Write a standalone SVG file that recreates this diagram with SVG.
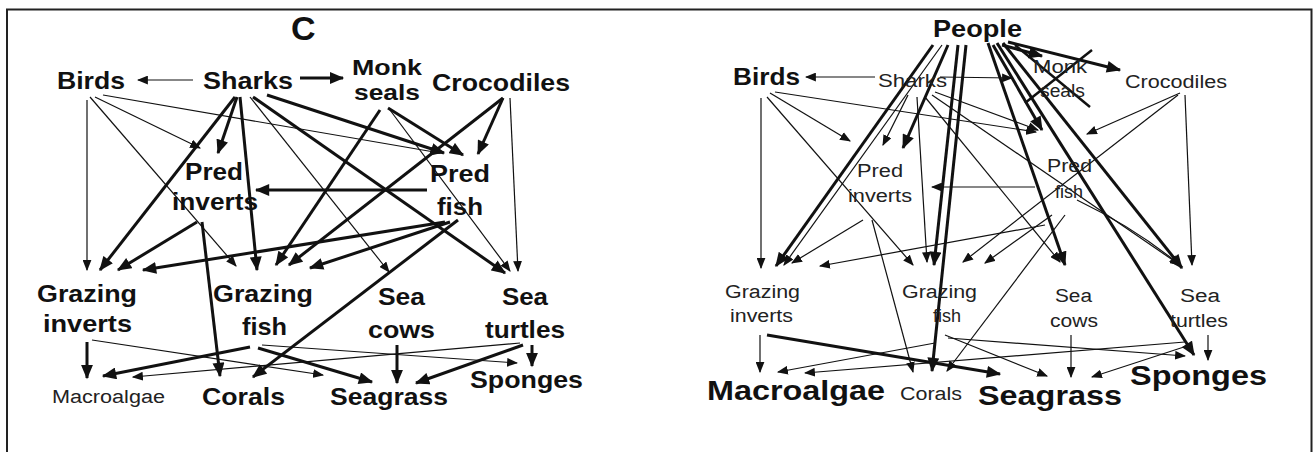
<svg xmlns="http://www.w3.org/2000/svg" width="1315" height="452" viewBox="0 0 1315 452">
<style>
text{font-family:"Liberation Sans",Arial,sans-serif;fill:#111}
.b{font-weight:bold;font-size:24px}
.n{font-size:18px;fill:#222}
.k{stroke:#111;stroke-width:3;fill:none;marker-end:url(#ab)}
.t{stroke:#111;stroke-width:1.2;fill:none;marker-end:url(#as)}
.x{stroke:#111;stroke-width:2.5;fill:none}
</style>
<defs>
<marker id="ab" viewBox="0 0 12 10" refX="11" refY="5" markerWidth="15" markerHeight="12" markerUnits="userSpaceOnUse" orient="auto"><path d="M0,0 L12,5 L0,10 z" fill="#111"/></marker>
<marker id="as" viewBox="0 0 10 8" refX="9" refY="4" markerWidth="11" markerHeight="9" markerUnits="userSpaceOnUse" orient="auto"><path d="M0,0 L10,4 L0,8 z" fill="#111"/></marker>
</defs>
<rect x="7" y="9.5" width="1304.5" height="480" fill="#fff" stroke="#222" stroke-width="2"/>
<g id="connectors">
<path class="t" d="M193,80 L138,80"/>
<path class="k" d="M300,78 L343,78"/>
<path class="k" d="M237,97 L218,153"/>
<path class="k" d="M235,97 L100,270"/>
<path class="k" d="M240,97 L257,270"/>
<path class="t" d="M250,97 L389,272"/>
<path class="k" d="M267,95 L444,153"/>
<path class="k" d="M253,97 L505,273"/>
<path class="t" d="M87,100 L87,270"/>
<path class="t" d="M90,97 L236,266"/>
<path class="t" d="M95,97 L200,148"/>
<path class="t" d="M103,95 L440,153"/>
<path class="k" d="M388,108 L463,155"/>
<path class="k" d="M380,110 L276,265"/>
<path class="t" d="M390,110 L510,271"/>
<path class="k" d="M503,98 L478,154"/>
<path class="k" d="M503,98 L289,265"/>
<path class="t" d="M510,98 L518,271"/>
<path class="k" d="M197,222 L118,270"/>
<path class="k" d="M202,222 L220,376"/>
<path class="k" d="M427,190 L256,190"/>
<path class="k" d="M445,222 L143,270"/>
<path class="k" d="M450,222 L310,268"/>
<path class="k" d="M458,220 L253,377"/>
<path class="k" d="M87,342 L87,378"/>
<path class="t" d="M92,340 L323,375"/>
<path class="k" d="M250,347 L103,376"/>
<path class="k" d="M258,348 L372,382"/>
<path class="t" d="M262,345 L517,363"/>
<path class="t" d="M520,343 L133,377"/>
<path class="k" d="M532,345 L532,366"/>
<path class="k" d="M523,345 L416,383"/>
<path class="k" d="M397,345 L397,383"/>

<path class="t" d="M875,77 L806,77"/>
<path class="t" d="M940,77 L1012,78"/>
<path class="t" d="M908,95 L883,145"/>
<path class="t" d="M917,97 L927,262"/>
<path class="t" d="M925,97 L1060,262"/>
<path class="t" d="M935,92 L1038,130"/>
<path class="t" d="M932,95 L1180,265"/>
<path class="t" d="M761,98 L761,268"/>
<path class="t" d="M767,97 L913,265"/>
<path class="t" d="M770,93 L850,141"/>
<path class="t" d="M775,92 L1036,132"/>
<path class="t" d="M1180,93 L1087,134"/>
<path class="t" d="M1178,95 L963,262"/>
<path class="t" d="M1185,95 L1192,265"/>
<path class="t" d="M863,220 L792,263"/>
<path class="t" d="M872,220 L913,372"/>
<path class="t" d="M1035,187 L932,187"/>
<path class="t" d="M1045,225 L820,266"/>
<path class="t" d="M1052,215 L985,263"/>
<path class="t" d="M1065,215 L947,371"/>
<path class="t" d="M1077,200 Q1135,228 1180,265"/>
<path class="t" d="M760,335 L760,372"/>
<path class="k" d="M767,335 L1000,374"/>
<path class="t" d="M935,343 L778,372"/>
<path class="t" d="M945,335 L1047,376"/>
<path class="t" d="M948,338 L1185,356"/>
<path class="t" d="M1185,342 L805,373"/>
<path class="t" d="M1208,335 L1208,360"/>
<path class="t" d="M1190,345 L1092,377"/>
<path class="t" d="M1071,335 L1071,377"/>
<path class="k" d="M933,45 L776,266"/>
<path class="t" d="M942,45 L784,265"/>
<path class="k" d="M948,45 L903,148"/>
<path class="k" d="M958,45 L934,265"/>
<path class="k" d="M966,45 L932,371"/>
<path class="k" d="M988,43 L1065,265"/>
<path class="k" d="M993,45 L1042,130"/>
<path class="k" d="M1003,43 L1182,268"/>
<path class="k" d="M997,43 L1194,355"/>
<path class="k" d="M1008,42 L1120,70"/>
<path class="k" d="M1002,45 L1042,56"/>
<path class="x" d="M1015,45 L1090,107"/>
<path class="x" d="M1092,50 L1025,103"/>
</g>

<g id="left-panel">
<text id="label-C" class="b" x="291" y="40" style="font-size:34px">C</text>
<g id="L-birds"><text class="b" x="57" y="89" textLength="68" lengthAdjust="spacingAndGlyphs">Birds</text></g>
<g id="L-sharks"><text class="b" x="203" y="89" textLength="90" lengthAdjust="spacingAndGlyphs">Sharks</text></g>
<g id="L-monkseals"><text class="b" x="352" y="75" style="font-size:22px" textLength="70" lengthAdjust="spacingAndGlyphs">Monk</text><text class="b" x="354" y="100" style="font-size:22px" textLength="66" lengthAdjust="spacingAndGlyphs">seals</text></g>
<g id="L-crocodiles"><text class="b" x="432" y="91" textLength="138" lengthAdjust="spacingAndGlyphs">Crocodiles</text></g>
<g id="L-predinverts"><text class="b" x="185" y="180" textLength="58" lengthAdjust="spacingAndGlyphs">Pred</text><text class="b" x="172" y="210" textLength="86" lengthAdjust="spacingAndGlyphs">inverts</text></g>
<g id="L-predfish"><text class="b" x="430" y="182" textLength="60" lengthAdjust="spacingAndGlyphs">Pred</text><text class="b" x="437" y="215" textLength="46" lengthAdjust="spacingAndGlyphs">fish</text></g>
<g id="L-grazinginverts"><text class="b" x="37" y="302" textLength="100" lengthAdjust="spacingAndGlyphs">Grazing</text><text class="b" x="43" y="332" textLength="89" lengthAdjust="spacingAndGlyphs">inverts</text></g>
<g id="L-grazingfish"><text class="b" x="213" y="302" textLength="100" lengthAdjust="spacingAndGlyphs">Grazing</text><text class="b" x="242" y="335" textLength="45" lengthAdjust="spacingAndGlyphs">fish</text></g>
<g id="L-seacows"><text class="b" x="378" y="305" textLength="47" lengthAdjust="spacingAndGlyphs">Sea</text><text class="b" x="368" y="338" textLength="67" lengthAdjust="spacingAndGlyphs">cows</text></g>
<g id="L-seaturtles"><text class="b" x="502" y="305" textLength="46" lengthAdjust="spacingAndGlyphs">Sea</text><text class="b" x="485" y="338" textLength="80" lengthAdjust="spacingAndGlyphs">turtles</text></g>
<g id="L-macroalgae"><text class="n" x="52" y="403" textLength="113" lengthAdjust="spacingAndGlyphs">Macroalgae</text></g>
<g id="L-corals"><text class="b" x="202" y="405" textLength="83" lengthAdjust="spacingAndGlyphs">Corals</text></g>
<g id="L-seagrass"><text class="b" x="330" y="405" textLength="118" lengthAdjust="spacingAndGlyphs">Seagrass</text></g>
<g id="L-sponges"><text class="b" x="470" y="388" textLength="113" lengthAdjust="spacingAndGlyphs">Sponges</text></g>
</g>

<g id="right-panel">
<g id="R-people"><text class="b" x="933" y="37" textLength="89" lengthAdjust="spacingAndGlyphs">People</text></g>
<g id="R-birds"><text class="b" x="733" y="85" textLength="67" lengthAdjust="spacingAndGlyphs">Birds</text></g>
<g id="R-sharks"><text class="n" x="878" y="87" textLength="69" lengthAdjust="spacingAndGlyphs">Sharks</text></g>
<g id="R-monkseals"><text class="n" x="1033" y="73" textLength="54" lengthAdjust="spacingAndGlyphs">Monk</text><text class="n" x="1040" y="97" textLength="45" lengthAdjust="spacingAndGlyphs">seals</text></g>
<g id="R-crocodiles"><text class="n" x="1125" y="88" textLength="102" lengthAdjust="spacingAndGlyphs">Crocodiles</text></g>
<g id="R-predinverts"><text class="n" x="857" y="177" textLength="46" lengthAdjust="spacingAndGlyphs">Pred</text><text class="n" x="848" y="202" textLength="64" lengthAdjust="spacingAndGlyphs">inverts</text></g>
<g id="R-predfish"><text class="n" x="1047" y="172" textLength="45" lengthAdjust="spacingAndGlyphs">Pred</text><text class="n" x="1055" y="198" textLength="28" lengthAdjust="spacingAndGlyphs">fish</text></g>
<g id="R-grazinginverts"><text class="n" x="725" y="298" textLength="75" lengthAdjust="spacingAndGlyphs">Grazing</text><text class="n" x="730" y="322" textLength="63" lengthAdjust="spacingAndGlyphs">inverts</text></g>
<g id="R-grazingfish"><text class="n" x="902" y="298" textLength="75" lengthAdjust="spacingAndGlyphs">Grazing</text><text class="n" x="933" y="322" textLength="28" lengthAdjust="spacingAndGlyphs">fish</text></g>
<g id="R-seacows"><text class="n" x="1055" y="302" textLength="37" lengthAdjust="spacingAndGlyphs">Sea</text><text class="n" x="1050" y="327" textLength="48" lengthAdjust="spacingAndGlyphs">cows</text></g>
<g id="R-seaturtles"><text class="n" x="1180" y="302" textLength="40" lengthAdjust="spacingAndGlyphs">Sea</text><text class="n" x="1170" y="327" textLength="58" lengthAdjust="spacingAndGlyphs">turtles</text></g>
<g id="R-macroalgae"><text class="b" x="707" y="400" style="font-size:27px" textLength="178" lengthAdjust="spacingAndGlyphs">Macroalgae</text></g>
<g id="R-corals"><text class="n" x="900" y="400" textLength="62" lengthAdjust="spacingAndGlyphs">Corals</text></g>
<g id="R-seagrass"><text class="b" x="978" y="405" style="font-size:27px" textLength="144" lengthAdjust="spacingAndGlyphs">Seagrass</text></g>
<g id="R-sponges"><text class="b" x="1130" y="385" style="font-size:27px" textLength="137" lengthAdjust="spacingAndGlyphs">Sponges</text></g>
</g>
</svg>
